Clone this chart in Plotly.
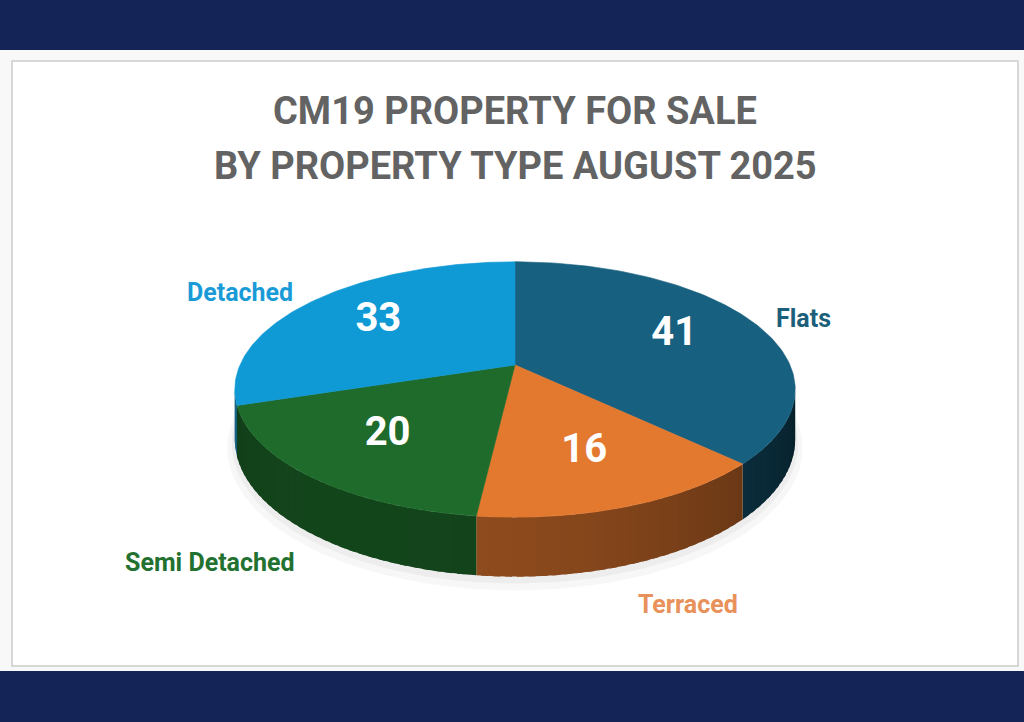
import numpy as np
import plotly.graph_objects as go

# data
categories = ["Flats", "Terraced", "Semi Detached", "Detached"]
counts = [41, 16, 20, 33]
title_lines = ["CM19 PROPERTY FOR SALE", "BY PROPERTY TYPE AUGUST 2025"]

# styles
top_colors = ["#17607f", "#e3782f", "#1e6b2b", "#0f99d5"]
label_colors = ["#1b5f7b", "#e8915a", "#237130", "#1a9bd7"]
label_pos = [(803, 318), (688, 604), (210, 562), (240, 292)]
navy = "#152456"

# pie geometry (screen pixels, y down) - tilted disc with a bit of perspective
CX, CY = 515, 365
RX, RY = 275, 123
K = 0.192      # perspective strength
H = 48         # thickness of the pie


def project(t, r=1.0, drop=0.0):
    # t = angle clockwise from 12 o'clock
    X = r * np.sin(t)
    Y = r * np.cos(t)
    s = 1 / (1 + K * Y)
    return CX + RX * X * s, CY - RY * Y * s + drop * s


def shade(hexcol, f):
    h = hexcol.lstrip("#")
    rgb = [int(h[i:i + 2], 16) for i in (0, 2, 4)]
    return "rgb(%d,%d,%d)" % tuple(min(255, int(c * f)) for c in rgb)


total = sum(counts)
ends = np.cumsum(counts) / total * 2 * np.pi
starts = np.concatenate([[0], ends[:-1]])

fig = go.Figure()

# soft shadow under the pie
ts = np.linspace(0, 2 * np.pi, 200)
for r, d, a in [(1.025, H + 7, 0.03), (1.01, H + 4, 0.04)]:
    sx, sy = project(ts, r, d)
    fig.add_trace(go.Scatter(x=sx, y=sy, fill="toself", mode="lines",
                             line=dict(width=0), fillcolor="rgba(0,0,0,%s)" % a,
                             hoverinfo="skip", showlegend=False))

# side walls (only the front part is visible)
vis0 = np.arccos(-K)
vis1 = 2 * np.pi - vis0
for i in range(len(counts)):
    a = max(starts[i], vis0)
    b = min(ends[i], vis1)
    if b <= a:
        continue
    n = max(2, int(np.degrees(b - a) / 2))
    edges = np.linspace(a, b, n + 1)
    step = edges[1] - edges[0]
    for t0, t1 in zip(edges[:-1], edges[1:]):
        t1x = min(b, t1 + step * 0.6)   # overlap the next strip to hide seams
        tt = np.linspace(t0, t1x, 4)
        xt, yt = project(tt)
        xb, yb = project(tt[::-1], 1.0, H)
        f = 0.41 + 0.24 * np.cos((t0 + t1) / 2 - np.radians(210))
        col = shade(top_colors[i], f)
        fig.add_trace(go.Scatter(x=np.concatenate([xt, xb]),
                                 y=np.concatenate([yt, yb]),
                                 fill="toself", mode="lines",
                                 line=dict(width=0),
                                 fillcolor=col, hoverinfo="skip",
                                 showlegend=False))

# top faces
for i, cat in enumerate(categories):
    tt = np.linspace(starts[i], ends[i], 120)
    xa, ya = project(tt)
    fig.add_trace(go.Scatter(x=np.concatenate([[CX], xa, [CX]]),
                             y=np.concatenate([[CY], ya, [CY]]),
                             fill="toself", mode="lines",
                             line=dict(width=0.6, color=top_colors[i]),
                             fillcolor=top_colors[i], name=cat,
                             hoverinfo="name", showlegend=False))

# value labels at mid angle of each slice
mids = (starts + ends) / 2
lx, ly = project(mids, 0.66)
fig.add_trace(go.Scatter(x=lx, y=ly, mode="text",
                         text=[str(c) for c in counts],
                         textfont=dict(family="Roboto", size=40, color="white",
                                       weight="bold"),
                         hoverinfo="skip", showlegend=False))

annotations = []
for i, cat in enumerate(categories):
    annotations.append(dict(x=label_pos[i][0], y=label_pos[i][1], text=cat,
                            showarrow=False, xref="x", yref="y",
                            font=dict(family="Roboto", size=25,
                                      color=label_colors[i], weight="bold")))
for j, line in enumerate(title_lines):
    annotations.append(dict(x=515, y=111 + 55 * j, text=line, showarrow=False,
                            xref="x", yref="y",
                            font=dict(family="Roboto", size=38, color="#636363",
                                      weight="bold")))

shapes = [
    dict(type="rect", xref="x", yref="y", x0=0, x1=1024, y0=0, y1=50,
         fillcolor=navy, line=dict(width=0), layer="below"),
    dict(type="rect", xref="x", yref="y", x0=0, x1=1024, y0=671, y1=722,
         fillcolor=navy, line=dict(width=0), layer="below"),
    dict(type="rect", xref="x", yref="y", x0=12, x1=1018, y0=61, y1=666,
         fillcolor="white", line=dict(width=1.5, color="#cccccc"), layer="below"),
]

fig.update_layout(
    width=1024,
    height=722,
    margin=dict(l=0, r=0, t=0, b=0),
    paper_bgcolor="#f8f8f8",
    plot_bgcolor="#f8f8f8",
    xaxis=dict(range=[0, 1024], visible=False, fixedrange=True),
    yaxis=dict(range=[722, 0], visible=False, fixedrange=True),
    shapes=shapes,
    annotations=annotations,
)

fig.write_html("out.html", config={"displayModeBar": False},
               post_script="document.body.style.margin='0';")
